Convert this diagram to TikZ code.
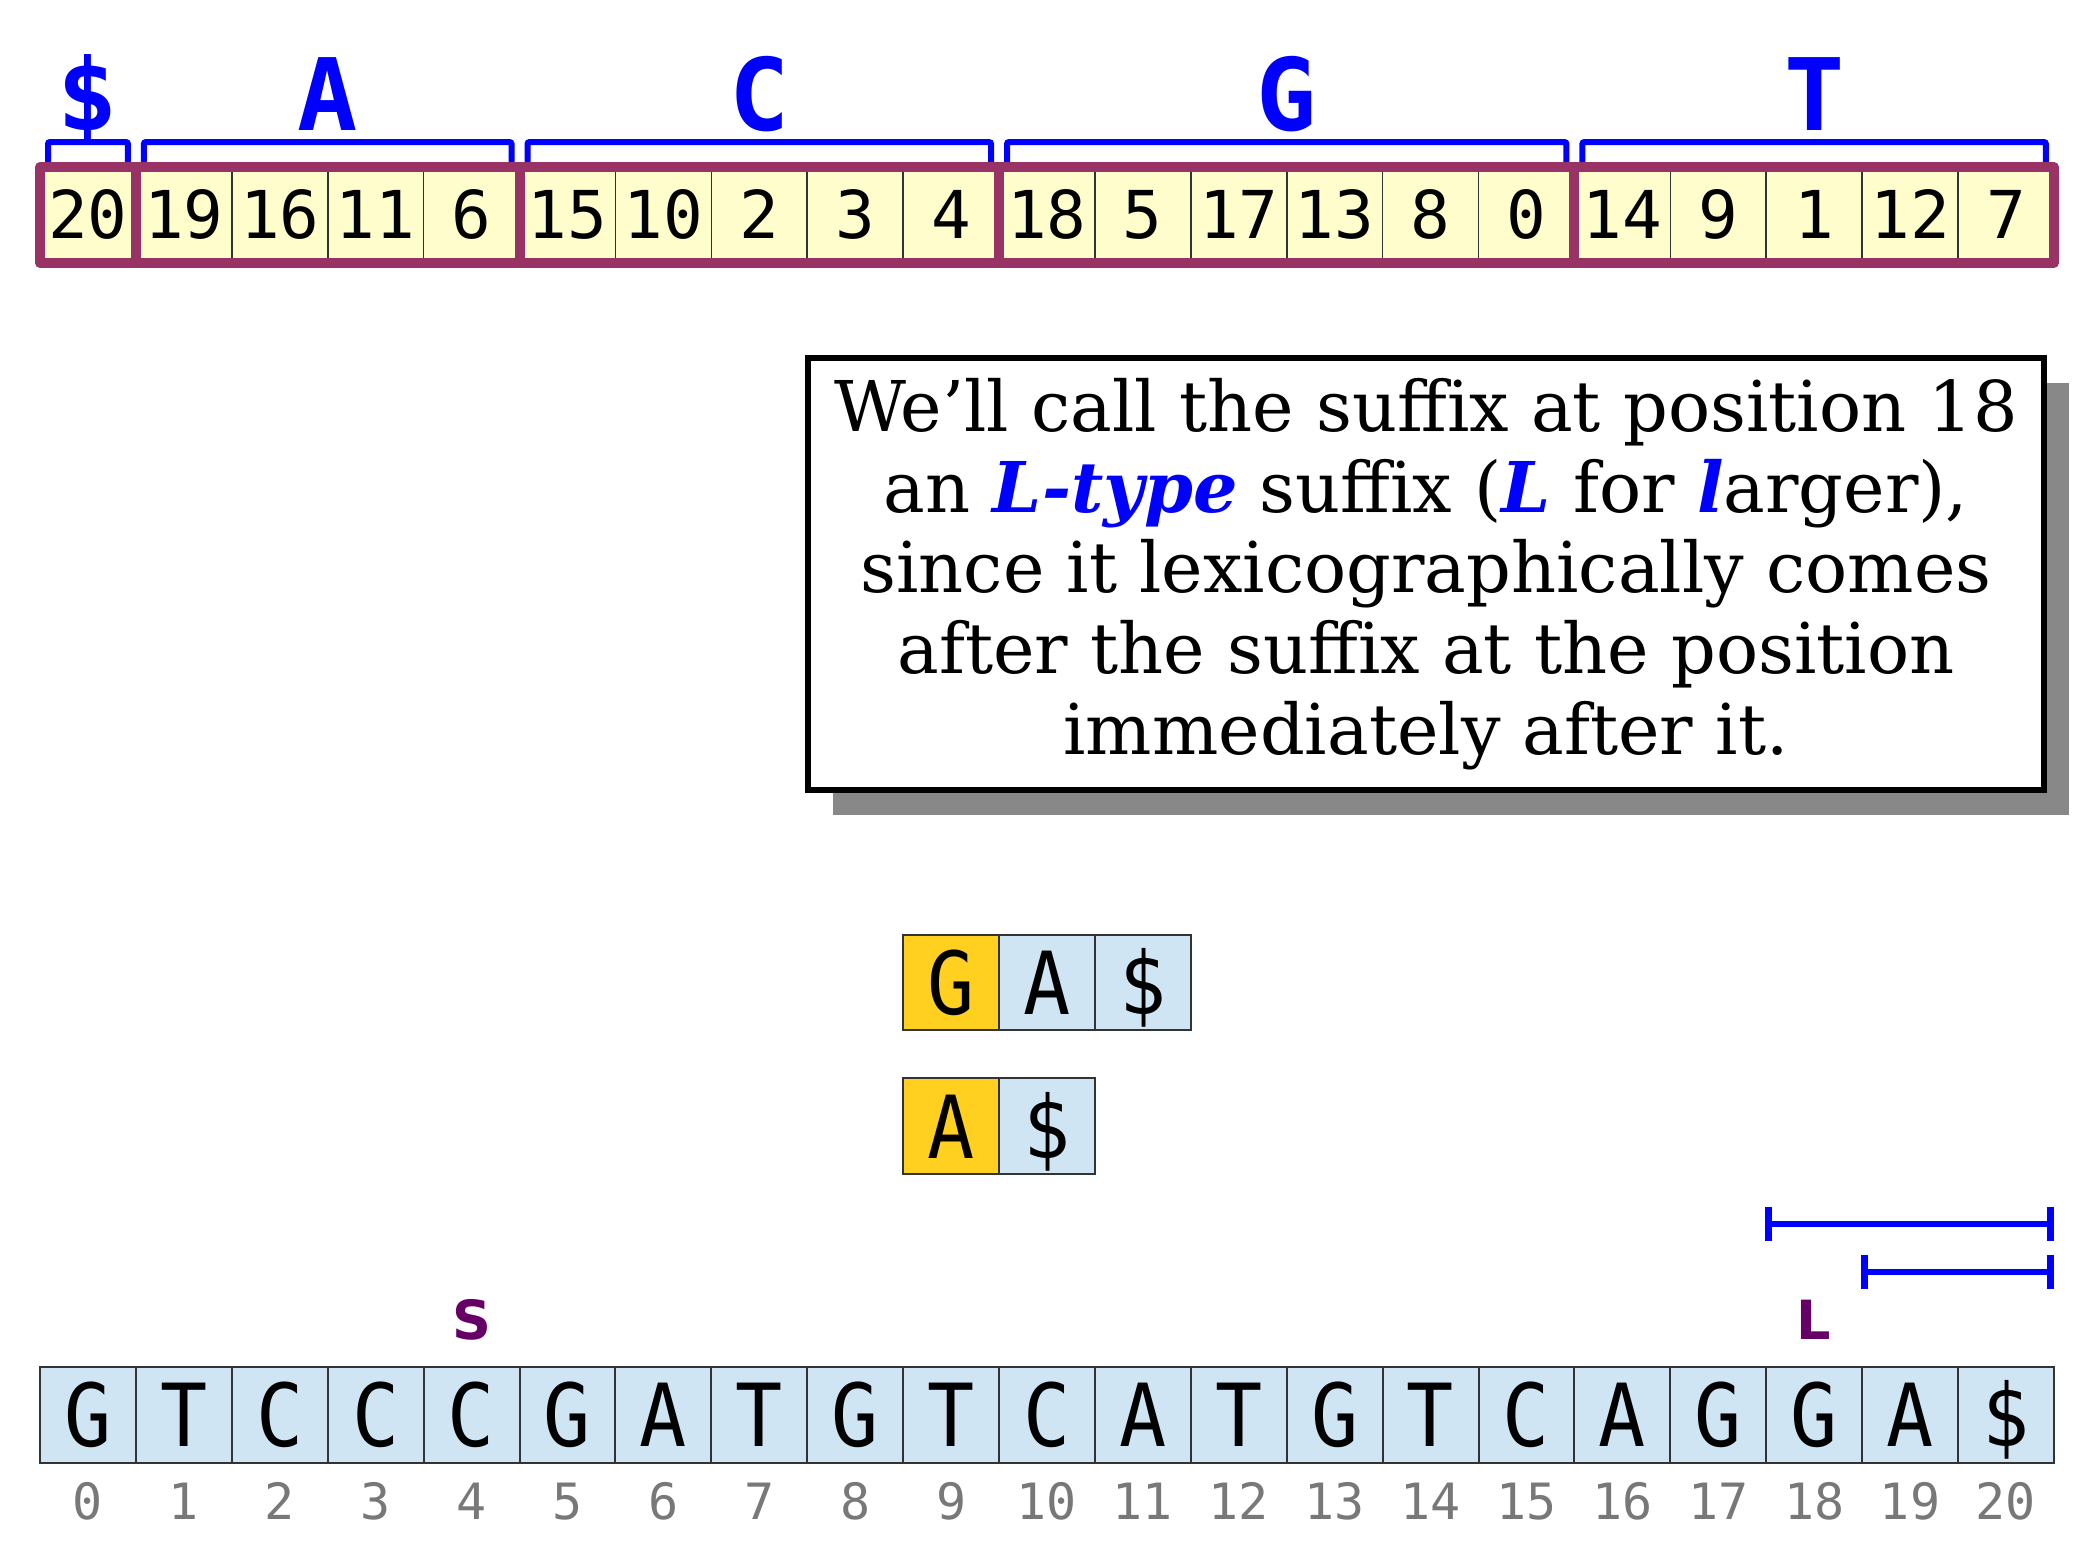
\documentclass[tikz,border=0pt]{standalone}
\usepackage{fontspec}
\setmainfont{DejaVu Serif}
\newfontfamily\dvmono{DejaVu Sans Mono}
\newfontfamily\dvmonocell[FakeStretch=0.9]{DejaVu Sans Mono}
\newfontfamily\dvsans{DejaVu Sans}
\usetikzlibrary{arrows.meta,calc,positioning,shadows}

\definecolor{frame}{RGB}{153,51,102}
\definecolor{safill}{RGB}{255,253,204}
\definecolor{strfill}{RGB}{207,229,243}
\definecolor{goldfill}{RGB}{255,208,32}
\definecolor{typecol}{RGB}{102,0,102}
\definecolor{idxgray}{RGB}{120,120,120}
\definecolor{shadowgray}{RGB}{136,136,136}

\newcommand{\bluebi}[1]{\textcolor{blue}{\textbf{\textit{#1}}}}
\def\cw{95.9}

\begin{document}
\begin{tikzpicture}[x=0.5pt, y=0.5pt,
        strcell/.style={draw=black!80, line width=1pt, fill=strfill, minimum size=47.95pt,
        inner sep=0pt, outer sep=0pt, text height=31.7pt, text depth=0pt,
        font=\dvmonocell\fontsize{43.5pt}{43.5pt}\selectfont},
        sacell/.style={draw=black!80, line width=0.8pt, fill=safill, minimum size=47.95pt,
        inner sep=0pt, outer sep=0pt, text height=24pt, text depth=0pt,
        font=\dvmono\fontsize{33pt}{33pt}\selectfont},
        idx/.style={anchor=base, text=idxgray, font=\dvmono\fontsize{25pt}{25pt}\selectfont},
        grpframe/.style={draw=frame, line width=5pt, line join=round},
        bracket/.style={draw=blue, line width=3pt, rounded corners=1pt},
        grplab/.style={anchor=base, yshift=18.5pt, text=blue, font=\dvmono\bfseries\fontsize{50pt}{50pt}\selectfont},
        typelab/.style={anchor=base, text=typecol, font=\dvsans\bfseries\fontsize{27pt}{27pt}\selectfont},
        interval/.style={draw=blue, line width=3.3pt, arrows={Bar[width=17pt]-Bar[width=17pt]}},
        note/.style={draw=black, line width=3pt, fill=white, minimum width=618pt, minimum height=216pt,
        align=center, inner sep=0pt, font=\fontsize{35pt}{40.3pt}\selectfont,
        drop shadow={shadow xshift=12.5pt, shadow yshift=-12.5pt, fill=shadowgray, opacity=1}},
    ]
    \useasboundingbox (0,0) rectangle (2088,1546);

    % suffix array
    \foreach \v [count=\i from 0] in {20,19,16,11,6,15,10,2,3,4,18,5,17,13,8,0,14,9,1,12,7}
        \node (sa\i) [sacell] at ({40+(\i+0.5)*\cw},1331) {\v};

    \foreach \lab/\a/\b [count=\k] in {\$/0/0, A/1/4, C/5/9, G/10/15, T/16/20} {
        \draw [bracket] ([xshift=4pt,yshift=1pt]sa\a.north west) |- ([xshift=-4pt,yshift=12.5pt]sa\b.north east)
            -- ([xshift=-4pt,yshift=1pt]sa\b.north east);
        \draw [grpframe] (sa\a.north west) rectangle (sa\b.south east);
        \node (lab\k) [grplab] at ($(sa\a.north west)!0.5!(sa\b.north east)$) {\lab};
    }

    \node (note) [note] at (1426,972) {
        We’ll call the suffix at position 18\\
        an \bluebi{L-type} suffix (\bluebi{L} for \bluebi{l}arger),\\
        since it lexicographically comes\\
        after the suffix at the position\\
        immediately after it.
    };

    % suffixes 18 and 19
    \node (ga0) [strcell, fill=goldfill] at ({40+9.5*\cw},563.5) {G};
    \node (ga1) [strcell, right=0pt of ga0] {A};
    \node (ga2) [strcell, right=0pt of ga1] {\$};

    \node (a0) [strcell, fill=goldfill, below=24pt of ga0] {A};
    \node (a1) [strcell, right=0pt of a0] {\$};

    \coordinate (iv18a) at (1765,322);
    \coordinate (iv18b) at (2054,322);
    \coordinate (iv19a) at (1861,274);
    \coordinate (iv19b) at (2054,274);
    \draw [interval] (iv18a) -- (iv18b);
    \draw [interval] (iv19a) -- (iv19b);

    % text
    \foreach \ch [count=\i from 0] in {G,T,C,C,C,G,A,T,G,T,C,A,T,G,T,C,A,G,G,A,\$} {
        \node (s\i) [strcell] at ({40+(\i+0.5)*\cw},131) {\ch};
        \node (i\i) [idx] at ({40+(\i+0.5)*\cw},26) {\i};
    }

    \node (stype) [typelab] at ({40+4.5*\cw},206) {S};
    \node (ltype) [typelab] at ({40+18.5*\cw},206) {L};
\end{tikzpicture}
\end{document}
